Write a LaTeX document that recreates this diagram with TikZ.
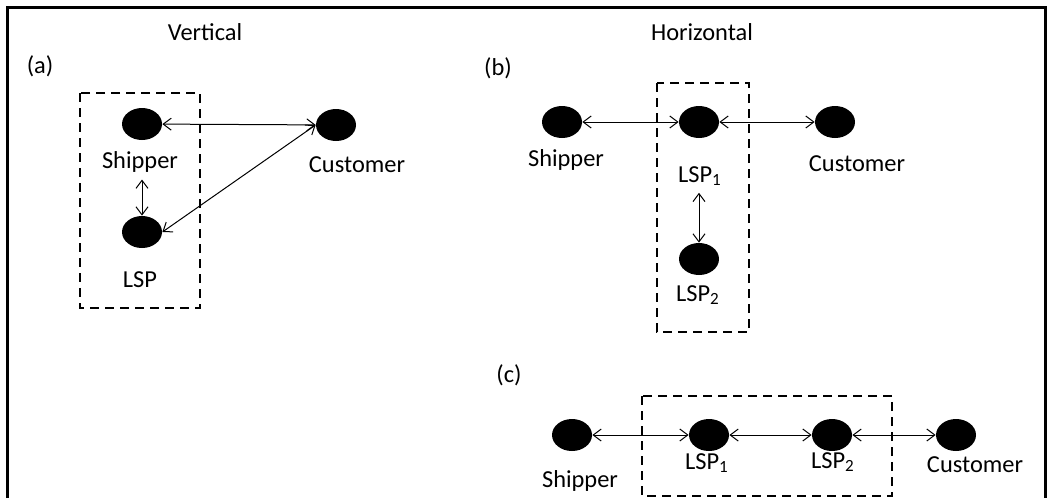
\documentclass[tikz,border=0pt]{standalone}
\usepackage{fontspec}
\setmainfont{Carlito}
\usetikzlibrary{arrows.meta,positioning,shapes.geometric}

\begin{document}
\begin{tikzpicture}[
  x=0.5pt, y=-0.5pt,
  every node/.style={font=\fontsize{12.2}{14}\selectfont},
  actor/.style={ellipse, fill=black, minimum width=20pt, minimum height=16pt, inner sep=0pt},
  link/.style={{Straight Barb[length=4pt,width=6pt]}-{Straight Barb[length=4pt,width=6pt]}, line width=0.5pt},
  grp/.style={line width=1.4pt, dash pattern=on 4.5pt off 3pt}
]
  \useasboundingbox (0,0) rectangle (1048,498);
  \draw[line width=1.5pt] (7,498) -- (7,7) -- (1045,7) -- (1045,498);

  \node (ttlv) at (205,32) {Vertical};
  \node (ttlh) at (702,32) {Horizontal};

  % (a) vertical
  \node (tagA) at (40,66) {(a)};
  \node[actor] (shipA) at (142,124) {};
  \node[actor] (custA) at (336,125) {};
  \node[actor] (lspA)  at (142,232) {};
  \node (shipAl) at (140,162) {Shipper};
  \node (custAl) at (357,165) {Customer};
  \node (lspAl)  at (140,280) {LSP};
  \draw[grp] (80,93) rectangle (200,308);
  \draw[link] (lspA.east) -- (custA.west);
  \draw[link] (shipAl.south -| lspA) -- (lspA);

  % (b) horizontal, LSP pair
  \node (tagB) at (498,68) {(b)};
  \node[actor] (shipB) at (562,122) {};
  \node[actor] (lsp1B) at (699,122) {};
  \node[actor] (custB) at (835,122) {};
  \node[actor] (lsp2B) at (699,259) {};
  \node (shipBl) at (566,160) {Shipper};
  \node (lsp1Bl) at (700,176) {LSP\textsubscript{1}};
  \node (custBl) at (857,164) {Customer};
  \node (lsp2Bl) at (698,295) {LSP\textsubscript{2}};
  \draw[grp] (657,83) rectangle (749,332);
  \draw[link] (lsp1Bl.south -| lsp2B) -- (lsp2B);

  % (c) horizontal, chain
  \node (tagC) at (509,375) {(c)};
  \node[actor] (shipC) at (572,435) {};
  \node[actor] (lsp1C) at (709,435) {};
  \node[actor] (lsp2C) at (832,435) {};
  \node[actor] (custC) at (956,435) {};
  \node (shipCl) at (580,481) {Shipper};
  \node (lsp1Cl) at (707,463) {LSP\textsubscript{1}};
  \node (lsp2Cl) at (833,462) {LSP\textsubscript{2}};
  \node (custCl) at (975,465) {Customer};
  \draw[grp] (642,396) rectangle (892,496);

  \foreach \a/\b in {shipA/custA, shipB/lsp1B, lsp1B/custB, shipC/lsp1C, lsp1C/lsp2C, lsp2C/custC}
    \draw[link] (\a) -- (\b);
\end{tikzpicture}
\end{document}
